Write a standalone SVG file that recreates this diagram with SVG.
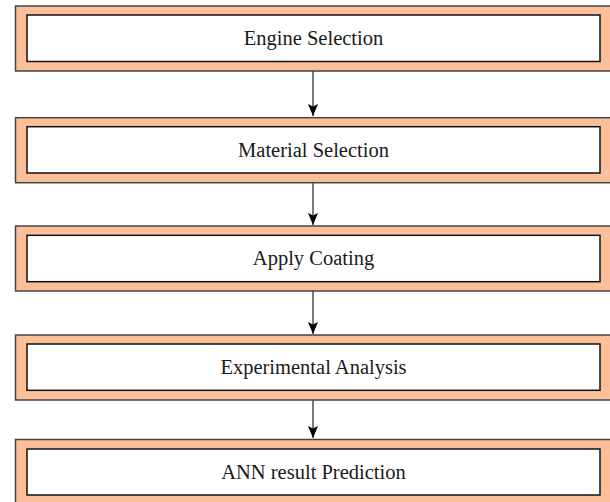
<svg xmlns="http://www.w3.org/2000/svg" width="610" height="502" viewBox="0 0 610 502">
<style>
.outer{fill:#fbc09a;stroke:#444;stroke-width:1.5}
.inner{fill:#fff;stroke:#111;stroke-width:1.5}
.lbl{font-family:"Liberation Serif","Times New Roman",serif;font-size:20.5px;fill:#1a1a1a;text-anchor:middle}
.conn{stroke:#333;stroke-width:1.3;fill:none;marker-end:url(#ah)}
</style>
<defs>
<marker id="ah" markerWidth="13" markerHeight="10" refX="12" refY="5" orient="auto" markerUnits="userSpaceOnUse" viewBox="0 0 13 10">
<path d="M0,0 L12,5 L0,10 L2.5,5 Z" fill="#000"/>
</marker>
</defs>
<g id="connectors">
<line class="conn" x1="313" y1="71" x2="313" y2="116"/>
<line class="conn" x1="313" y1="183" x2="313" y2="225"/>
<line class="conn" x1="313" y1="291" x2="313" y2="334"/>
<line class="conn" x1="313" y1="400" x2="313" y2="438"/>
</g>
<g id="n1"><rect class="outer" x="15.5" y="6" width="600" height="65"/><rect class="inner" x="27" y="15" width="573" height="46.5"/><text class="lbl" x="313.5" y="45">Engine Selection</text></g>
<g id="n2"><rect class="outer" x="15.5" y="117.7" width="600" height="65"/><rect class="inner" x="27" y="126.7" width="573" height="46.3"/><text class="lbl" x="313.5" y="156.5">Material Selection</text></g>
<g id="n3"><rect class="outer" x="15.5" y="226" width="600" height="65"/><rect class="inner" x="27" y="235.3" width="573" height="46.4"/><text class="lbl" x="313.5" y="265">Apply Coating</text></g>
<g id="n4"><rect class="outer" x="15.5" y="335" width="600" height="65"/><rect class="inner" x="27" y="344" width="573" height="46.3"/><text class="lbl" x="313.5" y="373.7">Experimental Analysis</text></g>
<g id="n5"><rect class="outer" x="15.5" y="439.5" width="600" height="66"/><rect class="inner" x="27" y="449" width="573" height="46"/><text class="lbl" x="313.5" y="478.5">ANN result Prediction</text></g>
</svg>
